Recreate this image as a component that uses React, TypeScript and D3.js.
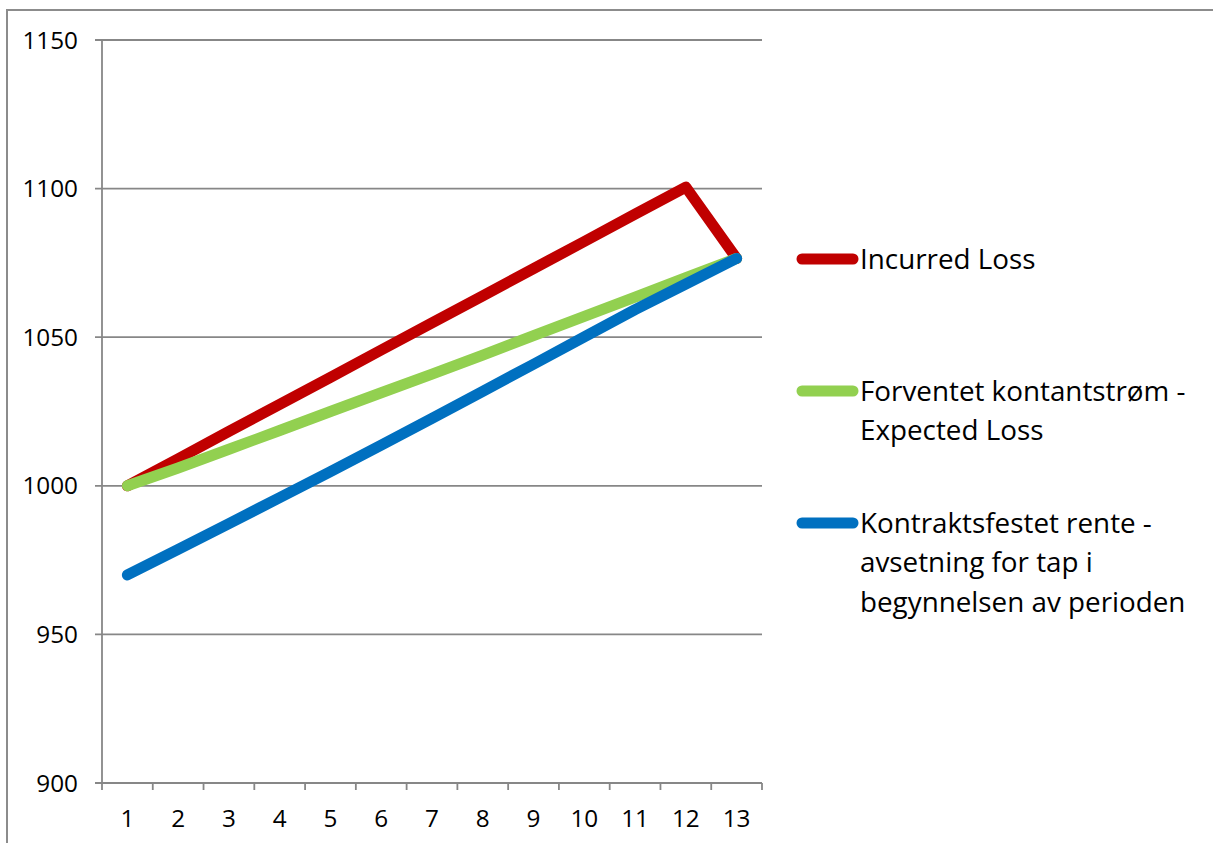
import React from "react";
import * as d3 from "d3";

const categories = ["1", "2", "3", "4", "5", "6", "7", "8", "9", "10", "11", "12", "13"];
const yTicks = [900, 950, 1000, 1050, 1100, 1150];
const incurredLoss = [1000, 1009.1, 1018.3, 1027.4, 1036.5, 1045.7, 1054.8, 1063.9, 1073.1, 1082.2, 1091.4, 1100.5, 1076.5];
const expectedLoss = [1000, 1006, 1012.3, 1018.6, 1025, 1031.3, 1037.6, 1044, 1050.5, 1057, 1063.5, 1070, 1076.5];
const contractual = [970, 978.6, 987.3, 996, 1004.8, 1013.7, 1022.7, 1031.8, 1040.9, 1050.1, 1059.3, 1067.9, 1076.5];

const series = [
  { name: ["Incurred Loss"], values: incurredLoss, color: "#C00000" },
  { name: ["Forventet kontantstrøm -", "Expected Loss"], values: expectedLoss, color: "#92D050" },
  { name: ["Kontraktsfestet rente -", "avsetning for tap i", "begynnelsen av perioden"], values: contractual, color: "#0070C0" },
];
const legendY = [259, 391, 523];

export default function App() {
  const W = 1213, H = 843;
  const x = d3.scaleBand<string>().domain(categories).range([102, 762]).padding(0);
  const y = d3.scaleLinear().domain([900, 1150]).range([783, 40]);
  const cx = (c: string) => (x(c) as number) + x.bandwidth() / 2;
  const line = d3
    .line<number>()
    .x((_, i) => cx(categories[i]))
    .y((v) => y(v));
  const grid = "#878787";
  const font = "'Open Sans', sans-serif";
  const boundaries = d3.range(categories.length + 1).map((i) => 102 + i * x.bandwidth());

  return (
    <svg width={W} height={H} style={{ position: "absolute", left: 0, top: 0, background: "#fff" }}>
      <rect x={0} y={0} width={W} height={H} fill="#fff" />
      <rect x={7} y={10} width={W + 20} height={H + 20} fill="none" stroke="#8c8c8c" strokeWidth={2} />
      {yTicks.map((t) => (
        <g key={t}>
          <line x1={95} x2={762} y1={y(t)} y2={y(t)} stroke={grid} strokeWidth={1.8} />
          <text x={78} y={y(t) + 8.5} textAnchor="end" fontFamily={font} fontSize={24.3} fill="#000">
            {t}
          </text>
        </g>
      ))}
      <line x1={102} x2={102} y1={40} y2={783} stroke={grid} strokeWidth={1.8} />
      {boundaries.map((bx, i) => (
        <line key={i} x1={bx} x2={bx} y1={783} y2={790} stroke={grid} strokeWidth={1.8} />
      ))}
      {categories.map((c) => (
        <text key={c} x={cx(c)} y={826.5} textAnchor="middle" fontFamily={font} fontSize={24.3} fill="#000">
          {c}
        </text>
      ))}
      {series.map((s) => (
        <path
          key={s.color}
          d={line(s.values) as string}
          fill="none"
          stroke={s.color}
          strokeWidth={11}
          strokeLinecap="round"
          strokeLinejoin="round"
        />
      ))}
      {series.map((s, si) => (
        <g key={"l" + si}>
          <line x1={802} x2={853} y1={legendY[si]} y2={legendY[si]} stroke={s.color} strokeWidth={11} strokeLinecap="round" />
          {s.name.map((n, li) => (
            <text key={li} x={860} y={legendY[si] + 9.5 + li * 39.5} fontFamily={font} fontSize={27.8} fill="#000">
              {n}
            </text>
          ))}
        </g>
      ))}
    </svg>
  );
}
